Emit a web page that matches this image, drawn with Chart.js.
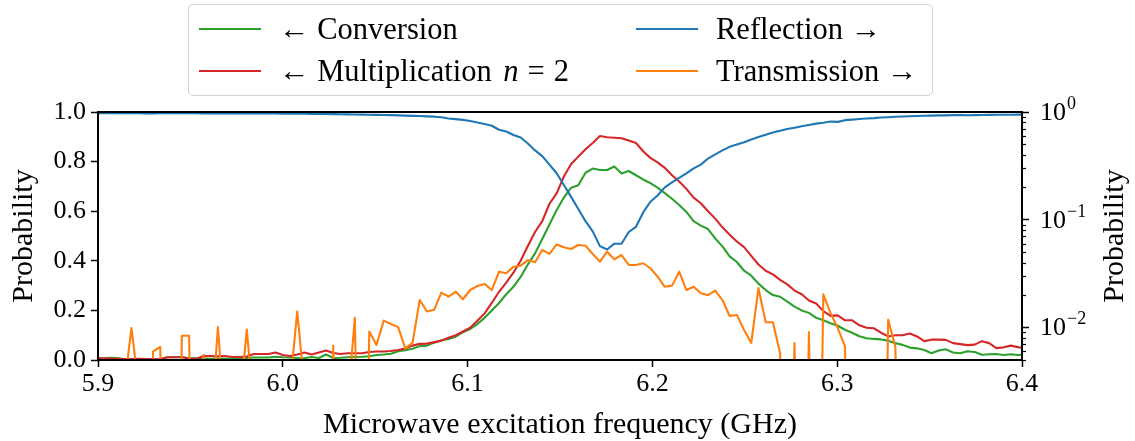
<!DOCTYPE html>
<html>
<head>
<meta charset="utf-8">
<script src="https://cdn.jsdelivr.net/npm/chart.js@4.4.1/dist/chart.umd.min.js"></script>
<style>
  html, body { margin: 0; padding: 0; background: #fff; }
  #wrap { position: relative; width: 1135px; height: 441px; overflow: hidden; }
  #chart { position: absolute; left: 0; top: 0; }
  #legend {
    position: absolute; left: 188px; top: 4px; width: 743px; height: 90px;
    border: 1.5px solid #d0d0d0; border-radius: 5px; background: rgba(255,255,255,0.8);
    font-family: 'Liberation Serif', 'DejaVu Serif', serif; font-size: 30.5px; color: #000;
  }
  .item { position: absolute; height: 40px; display: flex; align-items: center; white-space: nowrap; }
  .swatch { width: 62px; height: 0; border-top: 2px solid; margin-right: 18px; }
  .eq { margin: 0 9px; }
</style>
</head>
<body>
<div id="wrap">
  <canvas id="chart" width="1135" height="441"></canvas>
  <div id="legend">
    <div class="item" style="left:10px; top:4px;"><span class="swatch" style="border-color:#2ca02c"></span><span>← Conversion</span></div>
    <div class="item" style="left:10px; top:46px;"><span class="swatch" style="border-color:#d62728"></span><span>← Multiplication <i style="margin-left:4px">n</i><span class="eq">=</span>2</span></div>
    <div class="item" style="left:447px; top:4px;"><span class="swatch" style="border-color:#1f77b4"></span><span>Reflection →</span></div>
    <div class="item" style="left:447px; top:46px;"><span class="swatch" style="border-color:#ff7f0e"></span><span>Transmission →</span></div>
  </div>
</div>
<script>
// ---- data ----
const FREQ_GHZ = [
  5.8986, 5.9025, 5.9064, 5.9103, 5.9142, 5.9181, 5.9220, 5.9259, 5.9298, 5.9337,
  5.9376, 5.9415, 5.9454, 5.9493, 5.9532, 5.9571, 5.9610, 5.9649, 5.9688, 5.9727,
  5.9766, 5.9805, 5.9844, 5.9883, 5.9922, 5.9961, 6.0000, 6.0039, 6.0078, 6.0117,
  6.0156, 6.0195, 6.0234, 6.0273, 6.0312, 6.0351, 6.0390, 6.0429, 6.0468, 6.0507,
  6.0546, 6.0585, 6.0624, 6.0663, 6.0702, 6.0741, 6.0780, 6.0819, 6.0858, 6.0897,
  6.0936, 6.0975, 6.1014, 6.1053, 6.1092, 6.1131, 6.1170, 6.1209, 6.1248, 6.1287,
  6.1326, 6.1365, 6.1404, 6.1443, 6.1482, 6.1521, 6.1560, 6.1599, 6.1638, 6.1677,
  6.1716, 6.1755, 6.1794, 6.1833, 6.1872, 6.1911, 6.1950, 6.1989, 6.2028, 6.2067,
  6.2106, 6.2145, 6.2184, 6.2223, 6.2262, 6.2301, 6.2340, 6.2379, 6.2418, 6.2457,
  6.2496, 6.2535, 6.2574, 6.2613, 6.2652, 6.2691, 6.2730, 6.2769, 6.2808, 6.2847,
  6.2886, 6.2925, 6.2964, 6.3003, 6.3042, 6.3081, 6.3120, 6.3159, 6.3198, 6.3237,
  6.3276, 6.3315, 6.3354, 6.3393, 6.3432, 6.3471, 6.3510, 6.3549, 6.3588, 6.3627,
  6.3666, 6.3705, 6.3744, 6.3783, 6.3822, 6.3861, 6.3900, 6.3939, 6.3978, 6.4017
];

// left axis (linear probability)
const CONVERSION = [
  0.005, 0.006, 0.009, 0.008, 0.003, 0.003, 0.003, 0.002, 0.003, 0.003,
  0.011, 0.011, 0.012, 0.007, 0.007, 0.006, 0.005, 0.006, 0.005, 0.006,
  0.005, 0.008, 0.010, 0.010, 0.010, 0.013, 0.011, 0.010, 0.008, 0.007,
  0.012, 0.008, 0.022, 0.008, 0.009, 0.011, 0.012, 0.013, 0.015, 0.020,
  0.022, 0.025, 0.035, 0.039, 0.045, 0.056, 0.058, 0.070, 0.080, 0.085,
  0.094, 0.112, 0.125, 0.145, 0.170, 0.200, 0.230, 0.265, 0.295, 0.335,
  0.385, 0.430, 0.488, 0.546, 0.605, 0.655, 0.695, 0.705, 0.755, 0.772,
  0.766, 0.766, 0.780, 0.752, 0.762, 0.745, 0.728, 0.713, 0.695, 0.673,
  0.650, 0.625, 0.597, 0.560, 0.542, 0.528, 0.490, 0.458, 0.418, 0.395,
  0.360, 0.340, 0.308, 0.282, 0.262, 0.255, 0.235, 0.215, 0.200, 0.190,
  0.170, 0.160, 0.148, 0.138, 0.122, 0.110, 0.096, 0.088, 0.085, 0.083,
  0.078, 0.068, 0.061, 0.050, 0.047, 0.040, 0.027, 0.038, 0.043, 0.030,
  0.027, 0.035, 0.032, 0.021, 0.023, 0.024, 0.020, 0.023, 0.020, 0.020
];

const MULTIPLICATION = [
  0.008, 0.007, 0.006, 0.005, 0.004, 0.004, 0.005, 0.004, 0.003, 0.004,
  0.011, 0.011, 0.011, 0.006, 0.005, 0.016, 0.016, 0.015, 0.016, 0.012,
  0.012, 0.014, 0.024, 0.024, 0.024, 0.030, 0.020, 0.016, 0.022, 0.030,
  0.022, 0.030, 0.038, 0.028, 0.024, 0.027, 0.027, 0.027, 0.032, 0.034,
  0.034, 0.036, 0.040, 0.046, 0.058, 0.065, 0.066, 0.072, 0.078, 0.090,
  0.100, 0.115, 0.130, 0.158, 0.188, 0.230, 0.275, 0.312, 0.352, 0.400,
  0.460, 0.516, 0.560, 0.630, 0.672, 0.740, 0.790, 0.820, 0.850, 0.875,
  0.903, 0.898, 0.896, 0.894, 0.885, 0.875, 0.842, 0.815, 0.797, 0.775,
  0.745, 0.720, 0.690, 0.655, 0.632, 0.600, 0.570, 0.535, 0.505, 0.478,
  0.455, 0.420, 0.385, 0.360, 0.345, 0.323, 0.305, 0.280, 0.265, 0.240,
  0.228, 0.197, 0.178, 0.180, 0.160, 0.160, 0.140, 0.130, 0.128, 0.110,
  0.095, 0.100, 0.100, 0.107, 0.095, 0.076, 0.082, 0.082, 0.081, 0.068,
  0.064, 0.060, 0.062, 0.076, 0.068, 0.048, 0.051, 0.058, 0.052, 0.047
];

// right axis (log probability)
const REFLECTION = [
  0.975, 0.975, 0.976, 0.975, 0.974, 0.975, 0.975, 0.972, 0.972, 0.973,
  0.974, 0.975, 0.974, 0.973, 0.973, 0.972, 0.971, 0.970, 0.970, 0.971,
  0.970, 0.969, 0.968, 0.968, 0.968, 0.967, 0.966, 0.965, 0.964, 0.963,
  0.961, 0.958, 0.957, 0.955, 0.952, 0.950, 0.948, 0.945, 0.943, 0.940,
  0.938, 0.935, 0.930, 0.925, 0.920, 0.918, 0.910, 0.905, 0.895, 0.870,
  0.858, 0.845, 0.825, 0.800, 0.775, 0.745, 0.685, 0.660, 0.612, 0.580,
  0.510, 0.440, 0.390, 0.325, 0.270, 0.210, 0.163, 0.126, 0.097, 0.078,
  0.057, 0.053, 0.060, 0.060, 0.077, 0.086, 0.117, 0.147, 0.168, 0.200,
  0.222, 0.245, 0.270, 0.300, 0.325, 0.370, 0.405, 0.440, 0.475, 0.500,
  0.525, 0.555, 0.585, 0.615, 0.645, 0.670, 0.695, 0.715, 0.738, 0.758,
  0.780, 0.795, 0.815, 0.810, 0.840, 0.850, 0.860, 0.870, 0.878, 0.890,
  0.895, 0.903, 0.908, 0.912, 0.918, 0.924, 0.926, 0.930, 0.930, 0.935,
  0.938, 0.932, 0.936, 0.938, 0.940, 0.942, 0.944, 0.944, 0.945, 0.945
];

// 0 = nothing measured (falls straight off the log axis, clipped like the original);
// small values just under 0.005 sit below the visible range
const TRANSMISSION = [
  0, 0, 0, 0, 0.0028, 0.0099, 0.0028, 0, 0.0060, 0.0066,
  0, 0, 0.0084, 0.0084, 0, 0.0056, 0.0012, 0.0101, 0.0012, 0,
  0.0018, 0.0096, 0.0018, 0, 0, 0, 0, 0.0028, 0.0141, 0.0028,
  0, 0, 0, 0.0068, 0, 0.0020, 0.0123, 0, 0.0092, 0.0069,
  0.0116, 0.0108, 0.0101, 0.0064, 0.0072, 0.0180, 0.0141, 0.0146, 0.0211, 0.0194,
  0.0215, 0.0183, 0.0223, 0.0243, 0.0254, 0.0223, 0.0330, 0.0319, 0.0367, 0.0375,
  0.0423, 0.0403, 0.0525, 0.0482, 0.0590, 0.0555, 0.0536, 0.0583, 0.0575, 0.0482,
  0.0409, 0.0506, 0.0430, 0.0471, 0.0381, 0.0381, 0.0395, 0.0355, 0.0297, 0.0239,
  0.0245, 0.0330, 0.0223, 0.0239, 0.0208, 0.0200, 0.0220, 0.0180, 0.0128, 0.0131,
  0.0095, 0.0072, 0.0232, 0.0112, 0.0112, 0.0058, 0, 0.0072, 0, 0.0091,
  0, 0.0203, 0.0136, 0.0099, 0.0067, 0, 0, 0, 0, 0,
  0.0118, 0.0066, 0, 0, 0, 0, 0, 0, 0, 0,
  0, 0, 0, 0, 0, 0, 0, 0, 0, 0
];

// ticks
const X_TICKS = [5.9, 6.0, 6.1, 6.2, 6.3, 6.4];
const LEFT_TICKS = [0, 0.2, 0.4, 0.6, 0.8, 1.0];
const RIGHT_MAJOR_TICKS = [0.01, 0.1, 1];
const RIGHT_MAJOR_EXPONENTS = ['\u22122', '\u22121', '0'];
const RIGHT_MINOR_TICKS = [0.005, 0.006, 0.007, 0.008, 0.009,
  0.02, 0.03, 0.04, 0.05, 0.06, 0.07, 0.08, 0.09,
  0.2, 0.3, 0.4, 0.5, 0.6, 0.7, 0.8, 0.9];

// ---- chart ----
const FONT = "'Liberation Serif', 'DejaVu Serif', serif";
const BELOW_AXIS = 1e-6;
const pts = (ys) => FREQ_GHZ.map((f, i) => ({ x: f, y: ys[i] }));
const lineStyle = (color) => ({
  borderColor: color, backgroundColor: color, borderWidth: 2.1,
  pointRadius: 0, pointHoverRadius: 0, tension: 0, fill: false,
  borderJoinStyle: 'round', clip: 0
});

const frameAndRightAxis = {
  id: 'frameAndRightAxis',
  afterDraw(chart) {
    const { ctx, chartArea: a } = chart;
    const yR = chart.scales.yR;
    ctx.save();
    // minor ticks of the log axis
    ctx.strokeStyle = '#000';
    ctx.lineWidth = 1.2;
    RIGHT_MINOR_TICKS.forEach(v => {
      const y = Math.round(yR.getPixelForValue(v)) + 0.5;
      ctx.beginPath(); ctx.moveTo(a.right, y); ctx.lineTo(a.right + 4, y); ctx.stroke();
    });
    // major tick labels 10^n
    ctx.fillStyle = '#000';
    ctx.textAlign = 'left';
    ctx.textBaseline = 'middle';
    RIGHT_MAJOR_TICKS.forEach((v, i) => {
      const y = yR.getPixelForValue(v);
      ctx.font = '26px ' + FONT;
      ctx.fillText('10', a.right + 18, y + 1);
      const w = ctx.measureText('10').width;
      ctx.font = '18px ' + FONT;
      ctx.fillText(RIGHT_MAJOR_EXPONENTS[i], a.right + 18 + w + 1, y - 8);
    });
    // right axis title
    ctx.font = '30px ' + FONT;
    ctx.textAlign = 'center';
    ctx.translate(1115, (a.top + a.bottom) / 2);
    ctx.rotate(-Math.PI / 2);
    ctx.fillText('Probability', 0, 0);
    ctx.restore();
    // frame
    ctx.save();
    ctx.strokeStyle = '#000';
    ctx.lineWidth = 2;
    ctx.strokeRect(a.left, a.top, a.right - a.left, a.bottom - a.top);
    ctx.restore();
  }
};

const tickGrid = { drawOnChartArea: false, drawTicks: true, tickLength: 7, tickWidth: 1.5, tickColor: '#000' };

new Chart(document.getElementById('chart'), {
  type: 'line',
  data: {
    datasets: [
      Object.assign({ label: 'Transmission', data: pts(TRANSMISSION.map(v => v > 0 ? v : BELOW_AXIS)), yAxisID: 'yR', order: 0 }, lineStyle('#ff7f0e')),
      Object.assign({ label: 'Reflection', data: pts(REFLECTION), yAxisID: 'yR', order: 1 }, lineStyle('#1f77b4')),
      Object.assign({ label: 'Multiplication n = 2', data: pts(MULTIPLICATION), yAxisID: 'yL', order: 2 }, lineStyle('#d62728')),
      Object.assign({ label: 'Conversion', data: pts(CONVERSION), yAxisID: 'yL', order: 3 }, lineStyle('#2ca02c'))
    ]
  },
  options: {
    responsive: false,
    animation: false,
    devicePixelRatio: 1,
    layout: { padding: { top: 112, left: 0, right: 0, bottom: 0 } },
    plugins: { legend: { display: false }, tooltip: { enabled: false } },
    scales: {
      x: {
        type: 'linear', min: 5.9, max: 6.4,
        afterBuildTicks: s => { s.ticks = X_TICKS.map(v => ({ value: v })); },
        afterFit: s => { s.height = 81; },
        ticks: { callback: v => Number(v).toFixed(1), font: { family: FONT, size: 26 }, color: '#000', padding: 2, maxRotation: 0, autoSkip: false },
        grid: tickGrid,
        border: { display: false },
        title: { display: true, text: 'Microwave excitation frequency (GHz)', font: { family: FONT, size: 30, lineHeight: 1.0 }, color: '#000', padding: { top: 0, bottom: 1 } }
      },
      yL: {
        type: 'linear', position: 'left', min: 0, max: 1,
        afterBuildTicks: s => { s.ticks = LEFT_TICKS.map(v => ({ value: v })); },
        afterFit: s => { s.width = 98; },
        ticks: { callback: v => Number(v).toFixed(1), font: { family: FONT, size: 26 }, color: '#000', padding: 5, autoSkip: false },
        grid: tickGrid,
        border: { display: false },
        title: { display: true, text: 'Probability', font: { family: FONT, size: 30 }, color: '#000', padding: { top: 6, bottom: 0 } }
      },
      yR: {
        type: 'logarithmic', position: 'right', min: 0.005, max: 1,
        afterBuildTicks: s => { s.ticks = RIGHT_MAJOR_TICKS.map(v => ({ value: v, major: true })); },
        afterFit: s => { s.width = 113; },
        ticks: { callback: () => '', autoSkip: false },
        grid: tickGrid,
        border: { display: false }
      }
    }
  },
  plugins: [frameAndRightAxis]
});
</script>
</body>
</html>
